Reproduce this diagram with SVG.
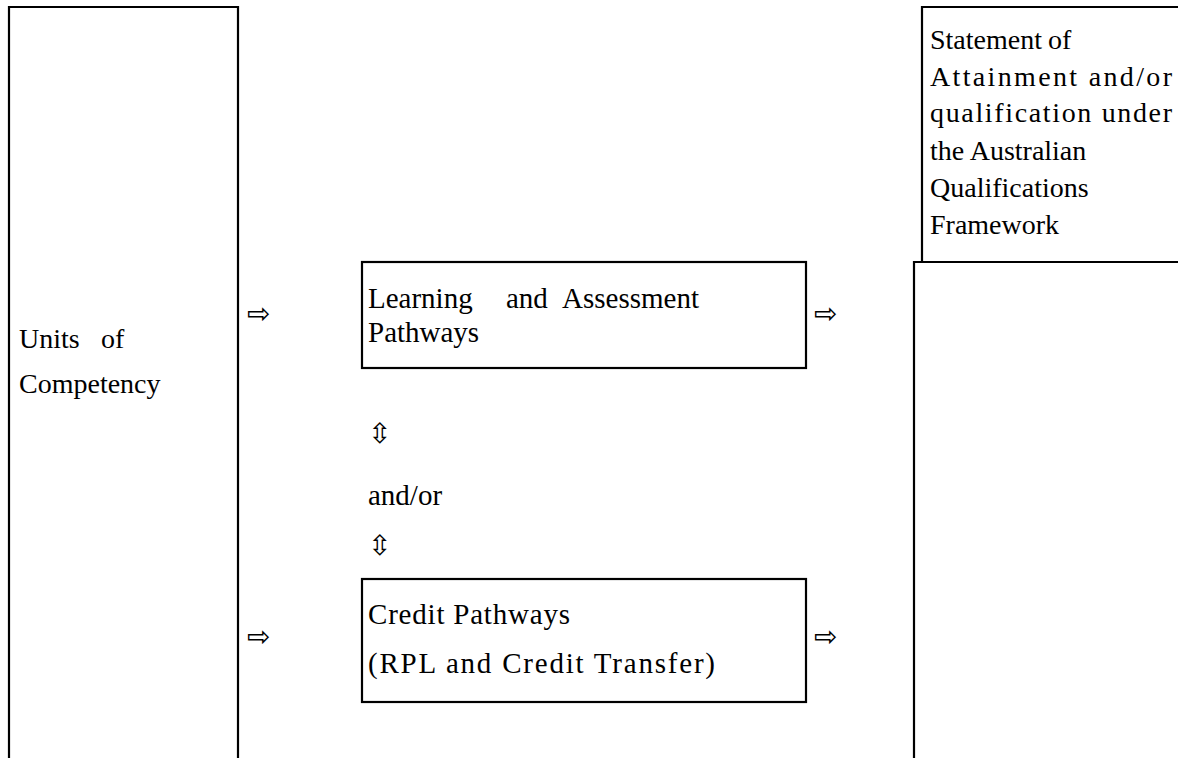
<svg xmlns="http://www.w3.org/2000/svg" width="1178" height="758" viewBox="0 0 1178 758">
<style>
.box{fill:none;stroke:#000;stroke-width:2.2}
.t{font-family:"Liberation Serif","Times New Roman",serif;font-size:29px;fill:#000}
.s{font-size:28px}
.ar{font-family:"DejaVu Sans",sans-serif;font-size:28px;fill:#000}
</style>
<rect width="1178" height="758" fill="#fff"/>
<g id="units">
<path class="box" d="M9,762 V7 H238 V762"/>
<text class="t s" x="19" y="348">Units</text>
<text class="t s" x="101" y="348">of</text>
<text class="t s" x="19" y="393">Competency</text>
</g>
<g id="statement">
<path class="box" d="M922,262 V7 H1182"/>
<text class="t s" x="930" y="49">Statement</text>
<text class="t s" x="1048" y="49">of</text>
<text class="t s" x="930" y="86" textLength="242" lengthAdjust="spacing">Attainment and/or</text>
<text class="t s" x="930" y="122" textLength="242" lengthAdjust="spacing">qualification under</text>
<text class="t s" x="930" y="160">the Australian</text>
<text class="t s" x="930" y="197">Qualifications</text>
<text class="t s" x="930" y="234">Framework</text>
</g>
<g id="outcome-lower">
<path class="box" d="M914,762 V262 H1182"/>
</g>
<g id="learning">
<rect class="box" x="362" y="262" width="444" height="106"/>
<text class="t" x="368" y="308">Learning</text>
<text class="t" x="506" y="308">and</text>
<text class="t" x="562" y="308">Assessment</text>
<text class="t" x="368" y="342">Pathways</text>
</g>
<g id="andor">
<text class="t" x="368" y="505">and/or</text>
</g>
<g id="credit">
<rect class="box" x="362" y="579" width="444" height="123"/>
<text class="t" x="368" y="624" textLength="202" lengthAdjust="spacing">Credit Pathways</text>
<text class="t" x="368" y="673" textLength="347" lengthAdjust="spacing">(RPL and Credit Transfer)</text>
</g>
<g id="connectors">
<text class="ar" x="247" y="323">⇨</text>
<text class="ar" x="247" y="646">⇨</text>
<text class="ar" x="814" y="323">⇨</text>
<text class="ar" x="814" y="646">⇨</text>
<text class="ar" x="368" y="443">⇳</text>
<text class="ar" x="368" y="555">⇳</text>
</g>
</svg>
